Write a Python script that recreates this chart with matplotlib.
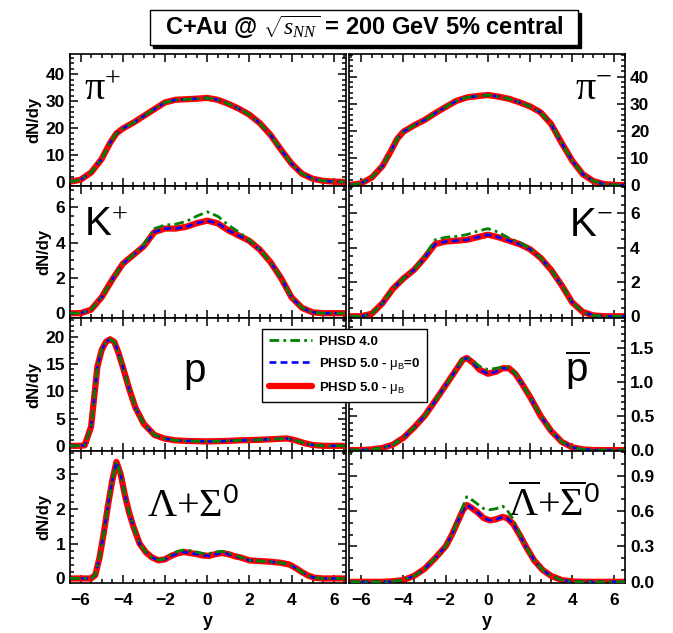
import matplotlib
matplotlib.use('Agg')
import matplotlib.pyplot as plt
from matplotlib.ticker import MultipleLocator
from matplotlib.patches import Rectangle

plt.rcParams['font.family'] = ['Liberation Sans', 'DejaVu Sans']
plt.rcParams['mathtext.fontset'] = 'custom'
plt.rcParams['mathtext.rm'] = 'Liberation Serif'
plt.rcParams['mathtext.it'] = 'Liberation Serif:italic'
plt.rcParams['mathtext.bf'] = 'Liberation Serif:bold'
plt.rcParams['mathtext.sf'] = 'Liberation Sans'

# ---------------- data ----------------
x_pi = [-6.5, -6.0, -5.5, -5.0, -4.6, -4.3, -4.0, -3.5, -3.0, -2.5, -2.0, -1.5, -1.0, -0.5,
        0.0, 0.5, 1.0, 1.5, 2.0, 2.5, 3.0, 3.5, 4.0, 4.5, 5.0, 5.5, 6.0, 6.5]
pip_mu = [0.1, 0.8, 3.5, 8.5, 14.5, 18.0, 19.8, 22.0, 24.5, 27.0, 29.5, 30.5, 30.7, 30.9,
          31.2, 30.5, 29.0, 27.2, 25.0, 21.8, 17.5, 12.0, 6.8, 3.0, 1.2, 0.4, 0.1, 0.0]
pip_mu0 = pip_mu
pip_v4 = pip_mu
pim_mu = [0.1, 0.7, 2.8, 7.0, 12.5, 17.0, 19.7, 22.0, 24.0, 26.5, 28.8, 31.0, 32.3, 32.8,
          33.2, 32.6, 31.8, 30.5, 29.0, 26.8, 22.5, 15.5, 9.0, 4.0, 1.5, 0.4, 0.1, 0.0]
pim_mu0 = pim_mu
pim_v4 = pim_mu

x_k = [-6.5, -6.0, -5.5, -5.0, -4.5, -4.0, -3.5, -3.0, -2.5, -2.0, -1.5, -1.0, -0.5, 0.0,
       0.5, 1.0, 1.5, 2.0, 2.5, 3.0, 3.5, 4.0, 4.5, 5.0, 5.5, 6.0, 6.5]
kp_mu = [0.0, 0.0, 0.2, 0.9, 1.9, 2.8, 3.3, 3.8, 4.6, 4.8, 4.8, 4.9, 5.1, 5.25,
         5.1, 4.7, 4.4, 4.1, 3.6, 2.9, 2.0, 0.9, 0.3, 0.05, 0.0, 0.0, 0.0]
kp_mu0 = kp_mu
kp_v4 = [0.0, 0.0, 0.2, 0.9, 1.9, 2.8, 3.3, 3.9, 4.8, 5.0, 5.05, 5.2, 5.5, 5.75,
         5.5, 5.0, 4.6, 4.15, 3.6, 2.9, 2.0, 0.9, 0.3, 0.05, 0.0, 0.0, 0.0]
km_mu = [0.0, 0.0, 0.15, 0.75, 1.6, 2.2, 2.7, 3.4, 4.2, 4.35, 4.4, 4.45, 4.6, 4.75,
         4.6, 4.4, 4.2, 3.9, 3.4, 2.7, 1.8, 0.8, 0.25, 0.05, 0.0, 0.0, 0.0]
km_mu0 = km_mu
km_v4 = [0.0, 0.0, 0.15, 0.75, 1.6, 2.2, 2.7, 3.5, 4.45, 4.6, 4.65, 4.75, 4.95, 5.1,
         4.9, 4.55, 4.3, 3.95, 3.4, 2.7, 1.8, 0.8, 0.25, 0.05, 0.0, 0.0, 0.0]

x_p = [-6.5, -6.0, -5.8, -5.5, -5.2, -5.0, -4.8, -4.6, -4.4, -4.2, -4.0, -3.7, -3.4, -3.0,
       -2.5, -2.0, -1.5, -1.0, -0.5, 0.0, 0.5, 1.0, 1.5, 2.0, 2.5, 3.0, 3.5, 3.8, 4.2,
       4.6, 5.0, 5.5, 6.0, 6.5]
p_mu = [0.0, 0.0, 0.1, 3.5, 14.5, 17.5, 19.0, 19.5, 19.0, 17.0, 14.5, 10.5, 7.0, 4.0,
        2.0, 1.3, 1.0, 0.9, 0.85, 0.8, 0.85, 0.9, 1.0, 1.05, 1.1, 1.2, 1.3, 1.35, 1.0,
        0.5, 0.15, 0.0, 0.0, 0.0]
p_mu0 = p_mu
p_v4 = p_mu

x_pbar = [-6.5, -6.0, -5.5, -5.0, -4.5, -4.0, -3.5, -3.0, -2.5, -2.0, -1.5, -1.2, -1.0, -0.7,
          -0.4, 0.0, 0.4, 0.7, 1.0, 1.3, 1.6, 2.0, 2.5, 3.0, 3.5, 4.0, 4.5, 5.0, 5.5, 6.0, 6.5]
pbar_mu = [0.0, 0.0, 0.01, 0.03, 0.08, 0.18, 0.33, 0.5, 0.72, 0.95, 1.18, 1.32, 1.35, 1.28,
           1.18, 1.12, 1.15, 1.2, 1.2, 1.12, 0.98, 0.78, 0.5, 0.28, 0.12, 0.04, 0.01, 0.0,
           0.0, 0.0, 0.0]
pbar_mu0 = pbar_mu
pbar_v4 = [0.0, 0.0, 0.01, 0.03, 0.08, 0.18, 0.33, 0.5, 0.72, 0.95, 1.18, 1.33, 1.36, 1.3,
           1.23, 1.18, 1.2, 1.22, 1.21, 1.13, 0.98, 0.78, 0.5, 0.28, 0.12, 0.04, 0.01, 0.0,
           0.0, 0.0, 0.0]

x_lam = [-6.5, -6.0, -5.5, -5.3, -5.1, -4.9, -4.7, -4.5, -4.3, -4.1, -3.9, -3.7, -3.5, -3.2,
         -2.9, -2.6, -2.3, -2.0, -1.7, -1.4, -1.1, -0.8, -0.5, -0.2, 0.1, 0.4, 0.7, 1.0,
         1.3, 1.6, 2.0, 2.5, 3.0, 3.5, 3.9, 4.2, 4.5, 4.8, 5.1, 5.5, 6.0, 6.5]
lam_mu = [0.0, 0.0, 0.0, 0.1, 0.6, 1.3, 2.1, 2.8, 3.35, 3.0, 2.4, 1.9, 1.5, 1.0,
          0.75, 0.6, 0.52, 0.55, 0.65, 0.72, 0.76, 0.73, 0.7, 0.66, 0.65, 0.7, 0.73, 0.7,
          0.64, 0.6, 0.52, 0.5, 0.48, 0.45, 0.4, 0.3, 0.18, 0.08, 0.02, 0.0, 0.0, 0.0]
lam_mu0 = lam_mu
lam_v4 = [0.0, 0.0, 0.0, 0.1, 0.6, 1.3, 2.1, 2.8, 3.35, 3.0, 2.4, 1.9, 1.5, 1.0,
          0.75, 0.6, 0.53, 0.57, 0.69, 0.78, 0.82, 0.8, 0.76, 0.72, 0.72, 0.76, 0.78, 0.74,
          0.67, 0.61, 0.52, 0.5, 0.48, 0.45, 0.4, 0.3, 0.18, 0.08, 0.02, 0.0, 0.0, 0.0]

x_lbar = [-6.5, -6.0, -5.5, -5.0, -4.5, -4.0, -3.5, -3.0, -2.5, -2.0, -1.7, -1.4, -1.2, -1.0,
          -0.8, -0.5, -0.2, 0.1, 0.4, 0.7, 0.9, 1.2, 1.5, 1.8, 2.2, 2.6, 3.0, 3.5, 4.0, 4.5,
          5.0, 5.5, 6.0, 6.5]
lbar_mu = [0.0, 0.0, 0.0, 0.0, 0.005, 0.015, 0.05, 0.11, 0.2, 0.3, 0.4, 0.52, 0.6, 0.65,
           0.63, 0.59, 0.54, 0.52, 0.53, 0.55, 0.54, 0.49, 0.4, 0.3, 0.18, 0.1, 0.05, 0.015,
           0.003, 0.0, 0.0, 0.0, 0.0, 0.0]
lbar_mu0 = lbar_mu
lbar_v4 = [0.0, 0.0, 0.0, 0.0, 0.005, 0.015, 0.05, 0.11, 0.2, 0.3, 0.4, 0.53, 0.63, 0.72,
           0.70, 0.66, 0.62, 0.61, 0.62, 0.64, 0.61, 0.53, 0.41, 0.3, 0.18, 0.1, 0.05, 0.015,
           0.003, 0.0, 0.0, 0.0, 0.0, 0.0]

series_labels = ['PHSD 4.0', r'PHSD 5.0 - $\mathsf{\mu_B}$=0', r'PHSD 5.0 - $\mathsf{\mu_B}$']
x_ticks = [-6, -4, -2, 0, 2, 4, 6]

panels = [
    # (row, col, x, mu, mu0, v4, ylim, major, minor, label)
    (0, 0, x_pi, pip_mu, pip_mu0, pip_v4, (-1.6, 47.5), 10, 2, r'$\mathrm{π}^{+}$'),
    (0, 1, x_pi, pim_mu, pim_mu0, pim_v4, (-0.4, 48.3), 10, 2, r'$\mathrm{π}^{-}$'),
    (1, 0, x_k, kp_mu, kp_mu0, kp_v4, (-0.3, 7.2), 2, 0.5, r'K$^{+}$'),
    (1, 1, x_k, km_mu, km_mu0, km_v4, (-0.13, 7.57), 2, 0.5, r'K$^{-}$'),
    (2, 0, x_p, p_mu, p_mu0, p_v4, (-0.9, 23.3), 5, 1, 'p'),
    (2, 1, x_pbar, pbar_mu, pbar_mu0, pbar_v4, (-0.01, 1.93), 0.5, 0.1, r'$\overline{\mathsf{p}}$'),
    (3, 0, x_lam, lam_mu, lam_mu0, lam_v4, (-0.13, 3.67), 1, 0.2, r'$\mathrm{Λ{+}Σ}^{\mathsf{0}}$'),
    (3, 1, x_lbar, lbar_mu, lbar_mu0, lbar_v4, (-0.01, 1.11), 0.3, 0.1,
     r'$\overline{\mathrm{Λ}}\mathrm{{+}}\overline{\mathrm{Σ}}^{\mathsf{0}}$'),
]

label_pos = {
    (0, 0): (0.05, 0.65, 'left'), (0, 1): (0.955, 0.65, 'right'),
    (1, 0): (0.05, 0.62, 'left'), (1, 1): (0.955, 0.62, 'right'),
    (2, 0): (0.41, 0.52, 'left'), (2, 1): (0.87, 0.52, 'right'),
    (3, 0): (0.28, 0.50, 'left'), (3, 1): (0.91, 0.50, 'right'),
}

fig = plt.figure(figsize=(6.73, 6.33), dpi=100)
gs = fig.add_gridspec(4, 2, left=0.104, right=0.9287, top=0.9147, bottom=0.079,
                      hspace=0, wspace=0.008)

handles = None
for row, col, xs, mu, mu0, v4, ylim, major, minor, lab in panels:
    ax = fig.add_subplot(gs[row, col])
    h1, = ax.plot(xs, mu, color='#ff0000', lw=4.5, solid_capstyle='round', zorder=2)
    h2, = ax.plot(xs, mu0, color='#0000ff', lw=1.9, dashes=(2.6, 1.6), zorder=3)
    h3, = ax.plot(xs, v4, color='#008000', lw=2.0, dashes=(3.5, 1.5, 1.0, 1.5), zorder=4)
    if row == 2 and col == 0:
        handles = [h3, h2, h1]
    ax.set_xlim(-6.5, 6.6) if col == 0 else ax.set_xlim(-6.6, 6.5)
    ax.set_ylim(*ylim)
    ax.set_xticks(x_ticks)
    ax.xaxis.set_minor_locator(MultipleLocator(0.5))
    ax.yaxis.set_major_locator(MultipleLocator(major))
    ax.yaxis.set_minor_locator(MultipleLocator(minor))
    ax.tick_params(which='both', direction='in', top=True, bottom=True, left=True, right=True,
                   width=1.1, labelsize=12.5)
    ax.tick_params(which='major', length=6)
    ax.tick_params(which='minor', length=3)
    ax.tick_params(axis='x', pad=7)
    for s in ax.spines.values():
        s.set_linewidth(1.2)
    if col == 1:
        ax.tick_params(labelleft=False, labelright=True)
        if major < 1:
            ax.yaxis.set_major_formatter(plt.FormatStrFormatter('%.1f'))
    else:
        ax.set_ylabel('dN/dy', fontsize=12, fontweight='bold', labelpad=3)
    for t in ax.get_yticklabels() + ax.get_xticklabels():
        t.set_fontweight('bold')
    if row < 3:
        ax.tick_params(labelbottom=False)
    else:
        ax.set_xlabel('y', fontsize=13, fontweight='bold', labelpad=4)
    lx, ly, ha = label_pos[(row, col)]
    ax.text(lx, ly, lab, transform=ax.transAxes, fontsize=29, ha=ha, va='baseline',
            fontweight='normal')

leg = fig.legend(handles, series_labels, loc='upper left',
                 bbox_to_anchor=(262 / 673, 1 - 329 / 633),
                 bbox_transform=fig.transFigure, borderaxespad=0,
                 fancybox=False, edgecolor='black', framealpha=1,
                 prop={'weight': 'bold', 'size': 9.5}, handlelength=3.3,
                 borderpad=0.5, labelspacing=0.6, handletextpad=0.5)
leg.get_frame().set_linewidth(1.0)
leg.set_zorder(10)

# title box with shadow
bx0, by0, bx1, by1 = 150 / 673, 1 - 45 / 633, 578 / 673, 1 - 10 / 633
fig.patches.append(Rectangle((bx0 + 3 / 673, by0 - 3 / 633), bx1 - bx0, by1 - by0,
                             transform=fig.transFigure, facecolor='black', edgecolor='black'))
fig.patches.append(Rectangle((bx0, by0), bx1 - bx0, by1 - by0, transform=fig.transFigure,
                             facecolor='white', edgecolor='black', lw=1.0))
fig.text((bx0 + bx1) / 2, (by0 + by1) / 2,
         r'C+Au @ $\sqrt{s_{NN}}$ = 200 GeV 5% central',
         ha='center', va='center', fontsize=17, fontweight='bold')

fig.savefig('out.png', dpi=100)
